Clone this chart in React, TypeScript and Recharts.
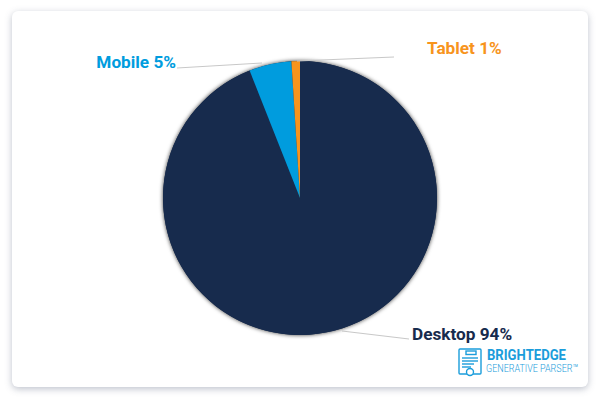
import { PieChart, Pie, Cell } from 'recharts'

const devices = ['Desktop', 'Mobile', 'Tablet']
const shares = [94, 5, 1]
const colors = ['#172b4d', '#009cde', '#f7941d']

const chartData = devices.map((name, i) => ({ name, value: shares[i] }))
const backing = [{ name: 'all', value: 100 }]

// leader line and text placement for each label
const labelSpots: Record<string, { x1: number; y1: number; x2: number; y2: number; tx: number; ty: number; anchor: 'start' | 'end' }> = {
  Desktop: { x1: 342, y1: 331, x2: 409, y2: 339, tx: 412, ty: 340, anchor: 'start' },
  Mobile: { x1: 262, y1: 63, x2: 177, y2: 68, tx: 176, ty: 68, anchor: 'end' },
  Tablet: { x1: 297, y1: 61, x2: 394, y2: 57, tx: 427, ty: 54, anchor: 'start' },
}

function renderLabel(props: any) {
  const name = props.name as string
  const spot = labelSpots[name]
  const color = colors[devices.indexOf(name)]
  return (
    <g>
      <line x1={spot.x1} y1={spot.y1} x2={spot.x2} y2={spot.y2} stroke="#c8c8c8" strokeWidth={1} />
      <text x={spot.tx} y={spot.ty} textAnchor={spot.anchor} fill={color} fontFamily="Roboto" fontWeight={700} fontSize={17.2}>
        {`${name} ${props.value}%`}
      </text>
    </g>
  )
}

function Logo() {
  return (
    <g>
      <g fill="none" stroke="#1b9ddb" strokeWidth={1.4}>
        <rect x={459} y={349} width={22} height={25} rx={1} />
        <rect x={466} y={351} width={10} height={3.5} />
        <line x1={462} y1={358} x2={478} y2={358} />
        <line x1={462} y1={361} x2={478} y2={361} />
        <line x1={462} y1={364} x2={474} y2={364} />
        <line x1={462} y1={367} x2={471} y2={367} />
        <circle cx={470} cy={372} r={3.5} fill="#ffffff" />
      </g>
      <text x={487} y={360} fill="#1b9ddb" fontFamily="Roboto" fontWeight={700} fontSize={14} textLength={79} lengthAdjust="spacingAndGlyphs">
        BRIGHTEDGE
      </text>
      <text x={486} y={372} fill="#1b9ddb" fontFamily="Roboto" fontWeight={300} fontSize={11.5} textLength={92} lengthAdjust="spacingAndGlyphs">
        GENERATIVE PARSER™
      </text>
    </g>
  )
}

export default function App() {
  return (
    <div style={{ position: 'fixed', left: 0, top: 0, width: 600, height: 400, background: '#ffffff' }}>
      <div
        style={{
          position: 'absolute',
          left: 12,
          top: 11,
          width: 576,
          height: 376,
          borderRadius: 6,
          background: '#ffffff',
          boxShadow: '0 2px 7px rgba(70,80,110,0.35)',
        }}
      />
      <div style={{ position: 'absolute', left: 0, top: 0 }}>
        <PieChart width={600} height={400} margin={{ top: 0, right: 0, bottom: 0, left: 0 }}>
          <Pie
            data={backing}
            dataKey="value"
            cx={300}
            cy={198}
            outerRadius={137}
            stroke="none"
            isAnimationActive={false}
          >
            <Cell fill="#172b4d" style={{ filter: 'drop-shadow(0 0 2px rgba(0,0,0,0.8))' }} />
          </Pie>
          <Pie
            data={chartData}
            dataKey="value"
            nameKey="name"
            cx={300}
            cy={198}
            outerRadius={137}
            startAngle={90}
            endAngle={-270}
            stroke="none"
            label={renderLabel}
            labelLine={false}
            isAnimationActive={false}
          >
            {devices.map((d, i) => (
              <Cell key={d} fill={colors[i]} />
            ))}
          </Pie>
          <Logo />
        </PieChart>
      </div>
    </div>
  )
}
